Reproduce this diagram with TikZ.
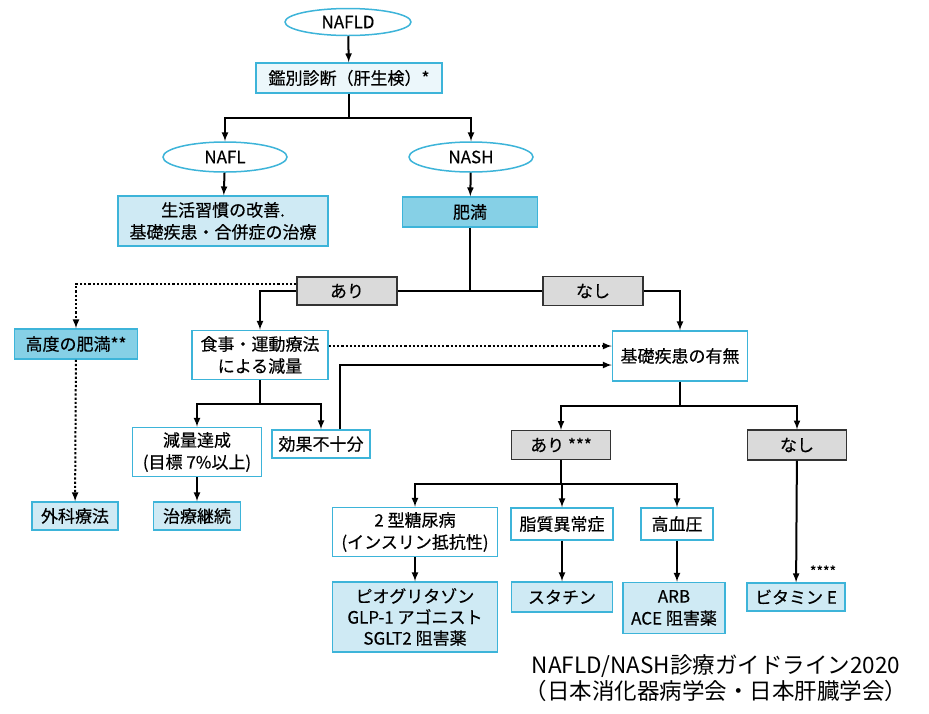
\documentclass[tikz,border=0pt]{standalone}
\usepackage{fontspec}
\setmainfont{Noto Sans CJK JP}[FakeBold=0.35]
\newfontfamily\citefont{Noto Sans CJK JP}
\usetikzlibrary{arrows,positioning,shapes.geometric}
\definecolor{rimblue}{RGB}{61,180,217}
\definecolor{paleblue}{RGB}{207,234,244}
\definecolor{deepblue}{RGB}{134,208,230}
\definecolor{boxgray}{RGB}{218,218,218}

\begin{document}
\begin{tikzpicture}[x=1pt,y=-1pt] % pixel coordinates, y downwards
\tikzset{every node/.style={font=\fontsize{17}{22}\selectfont, align=center, inner sep=0pt}}
\tikzset{oval/.style={ellipse, draw=rimblue, line width=1.5pt, fill=white, minimum width=126pt, minimum height=27pt}}
\tikzset{wbox/.style={draw=rimblue, line width=1.5pt, fill=white}}
\tikzset{lbox/.style={wbox, fill=paleblue}}
\tikzset{dbox/.style={wbox, fill=deepblue}}
\tikzset{gbox/.style={draw=black!80, line width=1.3pt, fill=boxgray}}
\tikzset{arr/.style={-latex, line width=2pt}}
\tikzset{dotarr/.style={arr, dash pattern=on 2.2pt off 2pt}}
\useasboundingbox (0,0) rectangle (929,713);

\node[oval] (nafld) at (348,22) {NAFLD};
\node[lbox, fill=paleblue!40, minimum width=186pt, minimum height=30pt] (diag) at (349,78) {鑑別診断（肝生検）*};
\node[oval, minimum width=124pt, minimum height=30pt] (nafl) at (225,157) {NAFL};
\node[oval, minimum width=124pt, minimum height=30pt] (nash) at (471,157) {NASH};
\node[lbox, minimum width=210pt, minimum height=50pt] (life) at (223,221) {生活習慣の改善.\\基礎疾患・合併症の治療};
\node[dbox, minimum width=135pt, minimum height=30pt] (obese) at (470,212) {肥満};
\node[gbox, minimum width=100pt, minimum height=28pt] (yes1) at (347,291) {あり};
\node[gbox, minimum width=100pt, minimum height=29pt] (no1) at (593,291) {なし};
\node[dbox, minimum width=123pt, minimum height=30pt] (severe) at (76,344) {高度の肥満**};
\node[wbox, minimum width=136pt, minimum height=49pt] (diet) at (260,355) {食事・運動療法\\による減量};
\node[wbox, minimum width=135pt, minimum height=50pt] (comorb) at (680,356) {基礎疾患の有無};
\node[wbox, minimum width=129pt, minimum height=49pt] (goal) at (197,452) {減量達成\\(目標 7\%以上)};
\node[wbox, minimum width=98pt, minimum height=28pt] (weak) at (321,444) {効果不十分};
\node[lbox, minimum width=86pt, minimum height=28pt] (surg) at (75,516) {外科療法};
\node[lbox, minimum width=87pt, minimum height=28pt] (cont) at (197,516) {治療継続};
\node[gbox, minimum width=99pt, minimum height=29pt] (yes2) at (561,445) {あり ***};
\node[gbox, minimum width=99pt, minimum height=30pt] (no2) at (797,445) {なし};
\node[wbox, minimum width=165pt, minimum height=49pt] (dm) at (415,532) {2 型糖尿病\\(インスリン抵抗性)};
\node[wbox, minimum width=102pt, minimum height=32pt] (lipid) at (562,524) {脂質異常症};
\node[wbox, minimum width=72pt, minimum height=32pt] (htn) at (677,524) {高血圧};
\node[lbox, minimum width=165pt, minimum height=70pt, font=\fontsize{17}{21}\selectfont] (pio) at (415,617) {ピオグリタゾン\\GLP-1 アゴニスト\\SGLT2 阻害薬};
\node[lbox, minimum width=101pt, minimum height=30pt] (statin) at (562,597) {スタチン};
\node[lbox, minimum width=102pt, minimum height=51pt] (arb) at (674,608) {ARB\\ACE 阻害薬};
\node[lbox, minimum width=98pt, minimum height=28pt] (vite) at (796,597) {ビタミン E};
\node[font=\fontsize{14}{16}\selectfont] (stars) at (823,571) {****};
\node[font=\citefont\fontsize{22.5}{26}\selectfont] (cite) at (716,678) {NAFLD/NASH診療ガイドライン2020\\（日本消化器病学会・日本肝臓学会）};

\draw[arr] (nafld) -- (diag);
\draw[arr] (diag.south) -- ++(0,24) -| (nafl.north);
\draw[arr] (diag.south) -- ++(0,24) -| (nash.north);
\draw[arr] (nafl) -- (life);
\draw[arr] (nash) -- (obese);
\draw[line width=2pt] (obese.south) |- (yes1.east);
\draw[line width=2pt] (yes1.east) -- (no1.west);
\draw[arr] (no1.east) -| (comorb.north);
\draw[dotarr] ([yshift=7pt]yes1.west) -| (severe.north);
\draw[arr] (yes1.west) -| (diet.north);
\draw[dotarr] (severe) -- (surg);
\coordinate (dl) at ([yshift=9pt]diet.east);
\draw[dotarr] (dl) -- (dl -| comorb.west);
\draw[arr] ([xshift=19pt]weak.north) |- ([yshift=-9pt]comorb.west);
\draw[arr] (diet.south) -- ++(0,24) -| (goal.north);
\draw[arr] (diet.south) -- ++(0,24) -| (weak.north);
\draw[arr] (goal) -- (cont);
\draw[arr] (comorb.south) -- ++(0,24) -| (yes2.north);
\draw[arr] (comorb.south) -- ++(0,24) -| (no2.north);
\draw[arr] (yes2.south) -- ++(0,24) -| (dm.north);
\draw[arr] (yes2.south) -- ++(0,24) -| (lipid.north);
\draw[arr] (yes2.south) -- ++(0,24) -| (htn.north);
\draw[arr] (dm) -- (pio);
\draw[arr] (lipid) -- (statin);
\draw[arr] (htn.south) -- (htn.south |- arb.north);
\draw[arr] (no2) -- (vite);
\end{tikzpicture}
\end{document}
